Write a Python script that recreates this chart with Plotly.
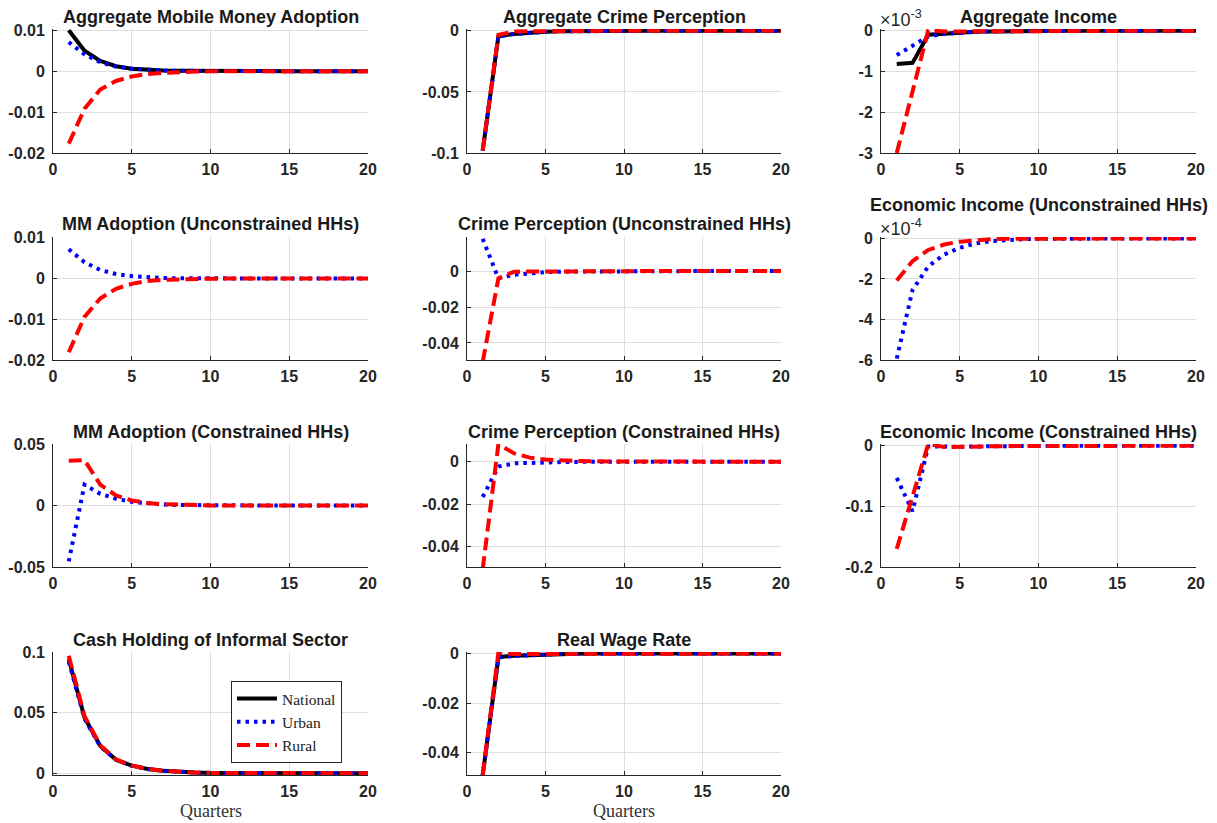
import plotly.graph_objects as go

W, H = 1217, 823
quarters = list(range(1, 21))

# ---- data ----
# 1 Aggregate Mobile Money Adoption
agg_mm_nat = [0.0100, 0.0050, 0.0025, 0.0012, 0.0006, 0.0003, 0.00015, 0.00008, 0.00004, 0.00002, 0.00001, 0, 0, 0, 0, 0, 0, 0, 0, 0]
agg_mm_urb = [0.0071, 0.0041, 0.0022, 0.0011, 0.0006, 0.0003, 0.00015, 0.00008, 0.00004, 0.00002, 0.00001, 0, 0, 0, 0, 0, 0, 0, 0, 0]
agg_mm_rur = [-0.0177, -0.0092, -0.0045, -0.0024, -0.0013, -0.0007, -0.0004, -0.0002, -0.0001, -0.00005, -0.00002, 0, 0, 0, 0, 0, 0, 0, 0, 0]
# 2 Aggregate Crime Perception
agg_cr_nat = [-0.098, -0.0045, -0.0025, -0.0014, -0.0008, -0.0004, -0.0002, -0.0001, -0.00005, 0, 0, 0, 0, 0, 0, 0, 0, 0, 0, 0]
agg_cr_urb = [-0.098, -0.0046, -0.0026, -0.0015, -0.0008, -0.0004, -0.0002, -0.0001, -0.00005, 0, 0, 0, 0, 0, 0, 0, 0, 0, 0, 0]
agg_cr_rur = [-0.098, -0.0033, -0.0005, -0.0003, -0.0002, -0.0001, -0.00005, 0, 0, 0, 0, 0, 0, 0, 0, 0, 0, 0, 0, 0]
# 3 Aggregate Income (units of 1e-3)
agg_inc_nat = [-0.82, -0.79, -0.10, -0.07, -0.045, -0.03, -0.02, -0.012, -0.008, -0.005, -0.003, -0.002, -0.001, 0, 0, 0, 0, 0, 0, 0]
agg_inc_urb = [-0.60, -0.37, -0.14, -0.08, -0.05, -0.03, -0.02, -0.012, -0.008, -0.005, -0.003, -0.002, -0.001, 0, 0, 0, 0, 0, 0, 0]
agg_inc_rur = [-3.0, -1.49, 0.01, -0.02, -0.02, -0.015, -0.01, -0.007, -0.004, -0.002, -0.001, 0, 0, 0, 0, 0, 0, 0, 0, 0]
# 4 MM Adoption (Unconstrained HHs)
mm_unc_urb = [0.0072, 0.0040, 0.0021, 0.0011, 0.0006, 0.0003, 0.00012, 0.00006, 0.00003, 0.00001, 0, 0, 0, 0, 0, 0, 0, 0, 0, 0]
mm_unc_rur = [-0.0181, -0.0094, -0.0049, -0.0025, -0.0013, -0.0006, -0.0003, -0.00015, -0.00008, -0.00004, -0.00002, 0, 0, 0, 0, 0, 0, 0, 0, 0]
# 5 Crime Perception (Unconstrained HHs)
cr_unc_urb = [0.018, -0.0040, -0.0020, -0.0012, -0.0006, -0.0003, -0.0002, -0.0001, -0.00005, 0, 0, 0, 0, 0, 0, 0, 0, 0, 0, 0]
cr_unc_rur = [-0.0505, -0.0040, -0.0003, -0.0002, -0.0001, -0.00005, 0, 0, 0, 0, 0, 0, 0, 0, 0, 0, 0, 0, 0, 0]
# 6 Economic Income (Unconstrained HHs) (units of 1e-4)
inc_unc_urb = [-5.93, -2.55, -1.38, -0.80, -0.46, -0.25, -0.13, -0.07, -0.04, -0.02, -0.01, 0, 0, 0, 0, 0, 0, 0, 0, 0]
inc_unc_rur = [-2.08, -1.12, -0.57, -0.30, -0.16, -0.08, -0.04, -0.02, -0.01, 0, 0, 0, 0, 0, 0, 0, 0, 0, 0, 0]
# 7 MM Adoption (Constrained HHs)
mm_con_urb = [-0.0455, 0.0170, 0.0095, 0.0055, 0.0030, 0.0016, 0.0008, 0.0004, 0.0002, 0.0001, 0, 0, 0, 0, 0, 0, 0, 0, 0, 0]
mm_con_rur = [0.0363, 0.0368, 0.0170, 0.0082, 0.0041, 0.0020, 0.0010, 0.0005, 0.00025, 0.0001, 0, 0, 0, 0, 0, 0, 0, 0, 0, 0]
# 8 Crime Perception (Constrained HHs)
cr_con_urb = [-0.0166, -0.0023, -0.0008, -0.0005, -0.0003, -0.0002, -0.0001, 0, 0, 0, 0, 0, 0, 0, 0, 0, 0, 0, 0, 0]
cr_con_rur = [-0.0505, 0.0082, 0.0039, 0.0019, 0.0010, 0.0005, 0.0003, 0.00015, 0.00008, 0.00004, 0, 0, 0, 0, 0, 0, 0, 0, 0, 0]
# 9 Economic Income (Constrained HHs)
inc_con_urb = [-0.053, -0.108, -0.001, -0.002, -0.0015, -0.001, -0.0005, -0.0003, -0.0001, 0, 0, 0, 0, 0, 0, 0, 0, 0, 0, 0]
inc_con_rur = [-0.170, -0.083, 0.003, -0.002, -0.002, -0.0015, -0.001, -0.0005, -0.0002, -0.0001, 0, 0, 0, 0, 0, 0, 0, 0, 0, 0]
# 10 Cash Holding of Informal Sector
cash_nat = [0.094, 0.046, 0.0225, 0.011, 0.0062, 0.0035, 0.002, 0.001, 0.0005, 0.00025, 0.0001, 0, 0, 0, 0, 0, 0, 0, 0, 0]
cash_urb = [0.092, 0.045, 0.0220, 0.011, 0.0060, 0.0034, 0.002, 0.001, 0.0005, 0.00025, 0.0001, 0, 0, 0, 0, 0, 0, 0, 0, 0]
cash_rur = [0.097, 0.047, 0.0230, 0.0113, 0.0063, 0.0036, 0.002, 0.001, 0.0005, 0.00025, 0.0001, 0, 0, 0, 0, 0, 0, 0, 0, 0]
# 11 Real Wage Rate
wage_nat = [-0.049, -0.0015, -0.0009, -0.0006, -0.0004, -0.0002, -0.0001, 0, 0, 0, 0, 0, 0, 0, 0, 0, 0, 0, 0, 0]
wage_urb = [-0.049, -0.0016, -0.0010, -0.0006, -0.0004, -0.0002, -0.0001, 0, 0, 0, 0, 0, 0, 0, 0, 0, 0, 0, 0, 0]
wage_rur = [-0.049, 0.0003, -0.0002, -0.0002, -0.0001, 0, 0, 0, 0, 0, 0, 0, 0, 0, 0, 0, 0, 0, 0, 0]

titles = [
    "Aggregate Mobile Money Adoption", "Aggregate Crime Perception", "Aggregate Income",
    "MM Adoption (Unconstrained HHs)", "Crime Perception (Unconstrained HHs)", "Economic Income (Unconstrained HHs)",
    "MM Adoption (Constrained HHs)", "Crime Perception (Constrained HHs)", "Economic Income (Constrained HHs)",
    "Cash Holding of Informal Sector", "Real Wage Rate",
]
x_ticks = [0, 5, 10, 15, 20]
y_ticks = [
    [-0.02, -0.01, 0, 0.01], [-0.1, -0.05, 0], [-3, -2, -1, 0],
    [-0.02, -0.01, 0, 0.01], [-0.04, -0.02, 0], [-6, -4, -2, 0],
    [-0.05, 0, 0.05], [-0.04, -0.02, 0], [-0.2, -0.1, 0],
    [0, 0.05, 0.1], [-0.04, -0.02, 0],
]
y_ranges = [
    [-0.02, 0.0103], [-0.1, 0.0015], [-3, 0.04],
    [-0.02, 0.0102], [-0.0495, 0.019], [-6, 0.07],
    [-0.05, 0.05], [-0.0495, 0.0083], [-0.2, 0.003],
    [-0.0015, 0.1], [-0.049, 0.0006],
]
series = [
    (agg_mm_nat, agg_mm_urb, agg_mm_rur),
    (agg_cr_nat, agg_cr_urb, agg_cr_rur),
    (agg_inc_nat, agg_inc_urb, agg_inc_rur),
    (None, mm_unc_urb, mm_unc_rur),
    (None, cr_unc_urb, cr_unc_rur),
    (None, inc_unc_urb, inc_unc_rur),
    (None, mm_con_urb, mm_con_rur),
    (None, cr_con_urb, cr_con_rur),
    (None, inc_con_urb, inc_con_rur),
    (cash_nat, cash_urb, cash_rur),
    (wage_nat, wage_urb, wage_rur),
]
names = ["National", "Urban", "Rural"]

# ---- layout geometry (pixels) ----
cols_px = [(53, 368), (467, 781), (881, 1196)]
rows_px = [(29, 153), (237, 360), (444, 567), (652, 775)]
title_y = [[17, 17, 17], [224, 224, 205], [432, 432, 432], [640, 640, 640]]

AX = "#262626"
GRID = "#dedede"
SANS = "Liberation Sans"
SERIF = "Liberation Serif"

styles = [
    dict(color="black", width=4, dash="solid"),
    dict(color="#0000ff", width=4, dash="3.5px,5px"),
    dict(color="#ff0000", width=4, dash="13px,6px"),
]

fig = go.Figure()
layout = dict(
    width=W, height=H, margin=dict(l=0, r=0, t=0, b=0),
    paper_bgcolor="white", plot_bgcolor="white",
    showlegend=True,
    legend=dict(
        x=231 / W, y=1 - 681 / H, xanchor="left", yanchor="top",
        bgcolor="white", bordercolor=AX, borderwidth=1,
        font=dict(family=SERIF, size=15.5, color="#222"),
        tracegroupgap=0, itemwidth=40,
    ),
)
annotations = []
legend_done = [False, False, False]

for i in range(11):
    r, c = divmod(i, 3)
    x0, x1 = cols_px[c]
    t, b = rows_px[r]
    n = "" if i == 0 else str(i + 1)
    xa = dict(
        domain=[x0 / W, x1 / W], range=[0, 20], anchor="y" + n,
        tickmode="array", tickvals=x_ticks, ticktext=[str(v) for v in x_ticks],
        showline=True, linecolor=AX, linewidth=1, mirror=False,
        ticks="inside", ticklen=4, tickcolor=AX,
        showgrid=True, gridcolor=GRID, gridwidth=1, zeroline=False,
        tickfont=dict(family=SANS, size=16, color=AX, weight="bold"),
        automargin=False, fixedrange=True, ticklabelstandoff=2,
    )
    ya = dict(
        domain=[1 - b / H, 1 - t / H], range=y_ranges[i], anchor="x" + n,
        tickmode="array", tickvals=y_ticks[i], ticktext=[f"{v:g}" for v in y_ticks[i]],
        showline=True, linecolor=AX, linewidth=1, mirror=False,
        ticks="inside", ticklen=4, tickcolor=AX,
        showgrid=True, gridcolor=GRID, gridwidth=1, zeroline=False,
        tickfont=dict(family=SANS, size=16, color=AX, weight="bold"),
        automargin=False, fixedrange=True, ticklabelstandoff=4,
    )
    layout["xaxis" + n] = xa
    layout["yaxis" + n] = ya

    for k, data in enumerate(series[i]):
        if data is None:
            continue
        show = not legend_done[k] and series[i][0] is not None
        if show:
            legend_done[k] = True
        fig.add_trace(go.Scatter(
            x=quarters, y=data, mode="lines", name=names[k],
            line=styles[k], xaxis="x" + n, yaxis="y" + n,
            showlegend=show, legendgroup=names[k], hoverinfo="skip",
        ))

    annotations.append(dict(
        text=titles[i], xref="paper", yref="paper",
        x=(x0 + x1) / 2 / W, y=1 - title_y[r][c] / H,
        xanchor="center", yanchor="middle", showarrow=False,
        font=dict(family=SANS, size=18, color="#1a1a1a", weight="bold"),
    ))

# exponent labels
for txt, yy in [("×10<sup>-3</sup>", 19), ("×10<sup>-4</sup>", 227)]:
    annotations.append(dict(
        text=txt, xref="paper", yref="paper", x=878 / W, y=1 - yy / H,
        xanchor="left", yanchor="middle", showarrow=False,
        font=dict(family=SANS, size=18, color=AX),
    ))

# x-axis labels
for c in range(2):
    x0, x1 = cols_px[c]
    annotations.append(dict(
        text="Quarters", xref="paper", yref="paper",
        x=(x0 + x1) / 2 / W, y=1 - 811 / H,
        xanchor="center", yanchor="middle", showarrow=False,
        font=dict(family=SERIF, size=18, color="#333"),
    ))

layout["annotations"] = annotations
fig.update_layout(**layout)
fig.write_html(
    "out.html",
    config={"displayModeBar": False},
    post_script="document.body.style.margin='0';document.body.style.padding='0';",
)
